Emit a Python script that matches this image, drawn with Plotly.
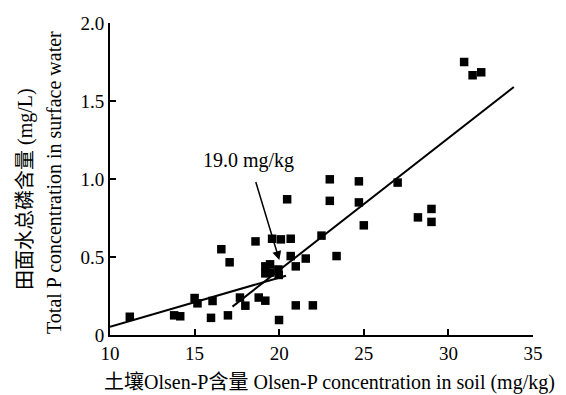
import plotly.graph_objects as go

olsen_p = [11.17, 13.79, 14.15, 15.0, 15.17, 15.97, 16.06, 16.58, 16.97, 17.07,
           17.68, 18.0, 18.6, 18.79, 19.18, 19.18, 19.46, 19.18, 19.46, 19.95,
           19.97, 19.58, 19.99, 20.1, 20.47, 20.68, 20.68, 20.98, 20.98, 21.57,
           21.99, 22.5, 22.99, 22.99, 23.39, 24.71, 24.71, 25.0, 27.0, 28.2,
           29.0, 29.0, 30.93, 31.43, 31.94]
total_p = [0.117, 0.126, 0.12, 0.237, 0.203, 0.11, 0.218, 0.55, 0.126, 0.466,
           0.24, 0.188, 0.60, 0.24, 0.22, 0.44, 0.453, 0.395, 0.40, 0.42,
           0.385, 0.617, 0.096, 0.613, 0.87, 0.617, 0.506, 0.44, 0.19, 0.49,
           0.19, 0.637, 0.998, 0.86, 0.506, 0.985, 0.85, 0.703, 0.977, 0.754,
           0.808, 0.725, 1.75, 1.665, 1.684]

fit1_x = [10.0, 20.4]
fit1_y = [0.053, 0.38]
fit2_x = [17.24, 33.87]
fit2_y = [0.182, 1.59]

change_label = "19.0 mg/kg"
arrow_tail = (18.59, 0.99)
arrow_head = (20.01, 0.48)
label_pos = (18.2, 1.12)

x_title = "土壤Olsen-P含量 Olsen-P concentration in soil (mg/kg)"
y_title_cn = "田面水总磷含量 (mg/L)"
y_title_en = "Total P concentration in surface water"

x_ticks = [10, 15, 20, 25, 30, 35]
x_ticklabels = ["10", "15", "20", "25", "30", "35"]
y_ticks = [0, 0.5, 1.0, 1.5, 2.0]
y_ticklabels = ["0", "0.5", "1.0", "1.5", "2.0"]

FONT = "Times New Roman, Liberation Serif, Noto Sans CJK SC, serif"

fig = go.Figure()
fig.add_trace(go.Scatter(x=fit1_x, y=fit1_y, mode="lines",
                         line=dict(color="black", width=2), showlegend=False))
fig.add_trace(go.Scatter(x=fit2_x, y=fit2_y, mode="lines",
                         line=dict(color="black", width=2), showlegend=False))
fig.add_trace(go.Scatter(x=olsen_p, y=total_p, mode="markers",
                         marker=dict(symbol="square", size=8.5, color="black"),
                         showlegend=False))

fig.add_annotation(x=arrow_head[0], y=arrow_head[1], ax=arrow_tail[0], ay=arrow_tail[1],
                   xref="x", yref="y", axref="x", ayref="y", text="",
                   showarrow=True, arrowhead=2, arrowsize=1.2, arrowwidth=1.5,
                   arrowcolor="black")
fig.add_annotation(x=label_pos[0], y=label_pos[1], xref="x", yref="y",
                   text=change_label, showarrow=False,
                   font=dict(family=FONT, size=20, color="black"))

# Axis titles placed as annotations for exact positioning
fig.add_annotation(x=0.5, y=0, xref="paper", yref="paper", text=x_title,
                   showarrow=False, xanchor="center", yanchor="middle",
                   xshift=8, yshift=-47, font=dict(family=FONT, size=20, color="black"))
fig.add_annotation(x=0, y=0.5, xref="paper", yref="paper", text=y_title_cn,
                   showarrow=False, textangle=-90, xanchor="center", yanchor="middle",
                   xshift=-85, yshift=-10, font=dict(family=FONT, size=20, color="black"))
fig.add_annotation(x=0, y=0.5, xref="paper", yref="paper", text=y_title_en,
                   showarrow=False, textangle=-90, xanchor="center", yanchor="middle",
                   xshift=-56, yshift=-4, font=dict(family=FONT, size=20, color="black"))

# The page body has an 8px margin, so the figure is sized/offset to compensate
fig.update_layout(
    width=558, height=387,
    margin=dict(l=102, r=33, t=15, b=60, autoexpand=False),
    plot_bgcolor="white", paper_bgcolor="white",
    font=dict(family=FONT, size=19, color="black"),
    xaxis=dict(range=[10, 35], tickvals=x_ticks, ticktext=x_ticklabels,
               showgrid=False, zeroline=False, showline=True, linecolor="black",
               linewidth=2, ticks="inside", ticklen=6, tickwidth=1.5, tickcolor="black",
               tickfont=dict(family=FONT, size=19), automargin=False,
               ticklabelstandoff=0),
    yaxis=dict(range=[0, 2.0], tickvals=y_ticks, ticktext=y_ticklabels,
               showgrid=False, zeroline=False, showline=True, linecolor="black",
               linewidth=2, ticks="inside", ticklen=6, tickwidth=1.5, tickcolor="black",
               tickfont=dict(family=FONT, size=19), automargin=False),
)

fig.write_html("out.html")
